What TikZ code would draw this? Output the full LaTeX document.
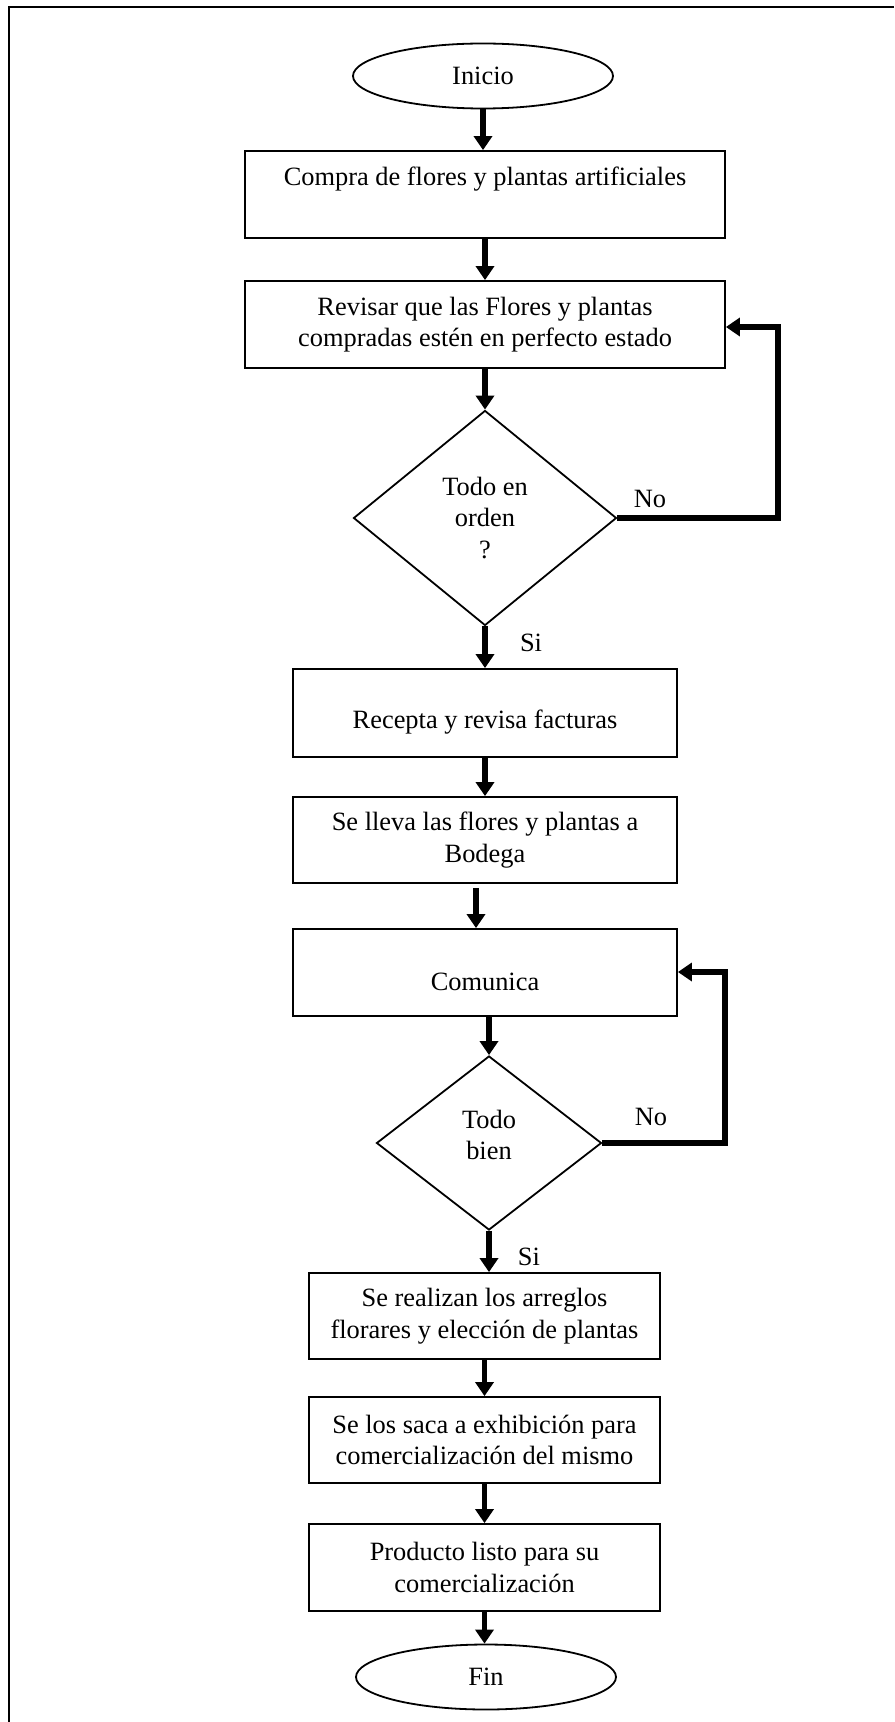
\documentclass[tikz,border=0pt]{standalone}
\usepackage{fontspec}
\setmainfont{Liberation Serif}
\usetikzlibrary{shapes.geometric,arrows.meta}
\begin{document}
\begin{tikzpicture}[x=0.5pt,y=-0.5pt,
  every node/.style={font=\fontsize{13.2pt}{15.75pt}\selectfont},
  shapeline/.style={draw,line width=0.9pt,inner sep=0pt,align=center},
  boxA/.style={shapeline,rectangle,minimum width=240pt,minimum height=43.5pt},
  boxB/.style={shapeline,rectangle,minimum width=192pt,minimum height=43.5pt},
  boxC/.style={shapeline,rectangle,minimum width=175.5pt,minimum height=43pt},
  term/.style={shapeline,ellipse,minimum width=130pt,minimum height=32.5pt},
  decision/.style={shapeline,diamond},
  flow/.style={line width=2.75pt,-{Triangle[width=9pt,length=7pt]}},
  loopline/.style={line width=2.6pt,line join=miter,-{Triangle[width=9pt,length=7pt]}},
  lbl/.style={inner sep=0pt}
]
\useasboundingbox (0,0) rectangle (894,1722);
% frame
\draw[line width=1pt] (894,7.5) -- (9,7.5) -- (9,1722);

% nodes
\node[term] (ini) at (483,76) {Inicio};
\node[boxA,label={[lbl,yshift=7.75pt]center:Compra de flores y plantas artificiales}] (b1) at (485,194.5) {};
\node[boxA] (b2) at (485,324.5) {Revisar que las Flores y plantas\\compradas estén en perfecto estado};
\node[decision,minimum width=131.5pt,minimum height=107.5pt] (d1) at (485,518) {Todo en\\orden\\?};
\node[boxB,minimum height=44pt,label={[lbl,yshift=-4.5pt]center:Recepta y revisa facturas}] (b3) at (485,713) {};
\node[boxB,minimum height=43pt] (b4) at (485,840) {Se lleva las flores y plantas a\\Bodega};
\node[boxB,label={[lbl,yshift=-4.75pt]center:Comunica}] (b5) at (485,972.5) {};
\node[decision,minimum width=112.5pt,minimum height=87pt,label={[lbl,align=center,yshift=4pt]center:Todo\\bien}] (d2) at (489,1143) {};
\node[boxC] (b6) at (484.5,1316) {Se realizan los arreglos\\florares y elección de plantas};
\node[boxC] (b7) at (484.5,1440) {Se los saca a exhibición para\\comercialización del mismo};
\node[boxC,minimum height=43.5pt] (b8) at (484.5,1567.5) {Producto listo para su\\comercialización};
\node[term] (fin) at (486,1677) {Fin};

% labels
\node[lbl] (no1) at (650,499) {No};
\node[lbl] (si1) at (531,643) {Si};
\node[lbl] (no2) at (651,1117) {No};
\node[lbl] (si2) at (529,1257) {Si};

% main flow
\draw[flow] (ini.south) -- (ini.south |- b1.north);
\draw[flow] (b1.south) -- (b2.north);
\draw[flow] (b2.south) -- (d1.north);
\draw[flow] (d1.south) -- (b3.north);
\draw[flow] (b3.south) -- (b4.north);
\draw[flow] ([xshift=-4.5pt,yshift=-2pt]b4.south) -- ([xshift=-4.5pt]b4.south |- b5.north);
\draw[flow] (d2.north |- b5.south) -- (d2.north);
\draw[flow] (d2.south) -- (d2.south |- b6.north);
\draw[flow] (b6.south) -- (b7.north);
\draw[flow] (b7.south) -- (b8.north);
\draw[flow] (b8.south) -- (b8.south |- fin.north);

% loops
\coordinate (r1) at (778,518);
\coordinate (r1t) at (778,327);
\draw[loopline] (d1.east) -- (r1) -- (r1t) -- (b2.east |- r1t);
\coordinate (r2) at (725,1143);
\coordinate (r2t) at (725,972);
\draw[loopline] (d2.east) -- (r2) -- (r2t) -- (b5.east |- r2t);
\end{tikzpicture}
\end{document}
